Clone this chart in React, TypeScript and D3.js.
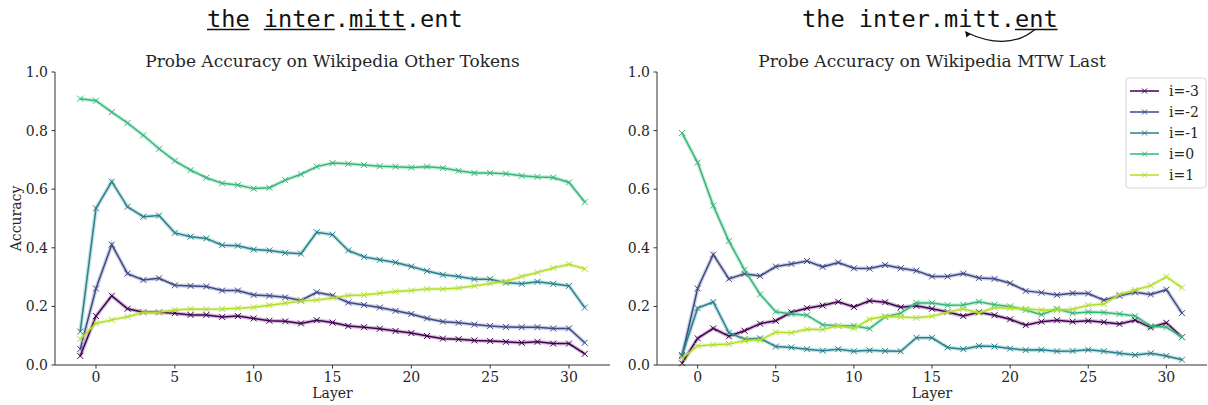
import React from 'react'
import * as d3 from 'd3'

// layers -1 .. 31
const layers = d3.range(-1, 32)

const seriesNames = ['i=-3', 'i=-2', 'i=-1', 'i=0', 'i=1']
const seriesColors = ['#440154', '#3E4A89', '#26828E', '#35B779', '#B4DE2C']

// Probe accuracy on Wikipedia other tokens
const otherM3 = [0.031, 0.167, 0.236, 0.192, 0.180, 0.180, 0.177, 0.171, 0.171, 0.164, 0.167, 0.159, 0.151, 0.149, 0.142, 0.153, 0.145, 0.133, 0.129, 0.124, 0.116, 0.109, 0.099, 0.090, 0.088, 0.084, 0.082, 0.079, 0.076, 0.079, 0.073, 0.073, 0.038]
const otherM2 = [0.054, 0.261, 0.411, 0.312, 0.290, 0.296, 0.272, 0.270, 0.268, 0.254, 0.254, 0.239, 0.236, 0.231, 0.220, 0.248, 0.237, 0.213, 0.205, 0.196, 0.185, 0.174, 0.159, 0.148, 0.144, 0.138, 0.133, 0.130, 0.129, 0.129, 0.125, 0.125, 0.076]
const otherM1 = [0.114, 0.535, 0.626, 0.540, 0.506, 0.510, 0.451, 0.438, 0.432, 0.409, 0.407, 0.394, 0.391, 0.383, 0.380, 0.453, 0.445, 0.391, 0.369, 0.359, 0.350, 0.336, 0.321, 0.308, 0.302, 0.293, 0.293, 0.281, 0.277, 0.284, 0.277, 0.270, 0.196]
const other0 = [0.909, 0.902, 0.863, 0.826, 0.784, 0.738, 0.697, 0.665, 0.639, 0.620, 0.614, 0.602, 0.605, 0.631, 0.651, 0.677, 0.689, 0.687, 0.683, 0.678, 0.677, 0.674, 0.677, 0.672, 0.663, 0.655, 0.655, 0.653, 0.646, 0.642, 0.640, 0.623, 0.556]
const otherP1 = [0.088, 0.142, 0.154, 0.165, 0.179, 0.180, 0.188, 0.191, 0.190, 0.191, 0.194, 0.197, 0.204, 0.211, 0.218, 0.222, 0.229, 0.237, 0.239, 0.245, 0.251, 0.254, 0.259, 0.259, 0.263, 0.270, 0.278, 0.285, 0.302, 0.316, 0.331, 0.344, 0.328]

// Probe accuracy on Wikipedia MTW last
const mtwM3 = [0.006, 0.091, 0.125, 0.098, 0.117, 0.141, 0.151, 0.180, 0.194, 0.203, 0.216, 0.198, 0.219, 0.214, 0.197, 0.202, 0.192, 0.181, 0.167, 0.180, 0.170, 0.156, 0.136, 0.148, 0.153, 0.148, 0.151, 0.146, 0.140, 0.153, 0.128, 0.144, 0.095]
const mtwM2 = [0.030, 0.261, 0.377, 0.294, 0.311, 0.304, 0.336, 0.345, 0.355, 0.335, 0.350, 0.330, 0.329, 0.341, 0.330, 0.322, 0.302, 0.302, 0.312, 0.297, 0.294, 0.279, 0.253, 0.247, 0.239, 0.245, 0.244, 0.221, 0.236, 0.248, 0.241, 0.257, 0.177]
const mtwM1 = [0.034, 0.194, 0.215, 0.110, 0.088, 0.091, 0.063, 0.060, 0.054, 0.049, 0.054, 0.047, 0.050, 0.048, 0.047, 0.093, 0.093, 0.060, 0.054, 0.065, 0.063, 0.056, 0.051, 0.052, 0.047, 0.048, 0.052, 0.047, 0.040, 0.034, 0.040, 0.031, 0.018]
const mtw0 = [0.792, 0.691, 0.544, 0.423, 0.325, 0.241, 0.182, 0.174, 0.170, 0.137, 0.134, 0.134, 0.124, 0.164, 0.177, 0.212, 0.212, 0.204, 0.205, 0.216, 0.206, 0.200, 0.188, 0.172, 0.192, 0.177, 0.181, 0.179, 0.174, 0.167, 0.133, 0.129, 0.095]
const mtwP1 = [0.023, 0.065, 0.069, 0.072, 0.083, 0.085, 0.112, 0.110, 0.122, 0.121, 0.134, 0.125, 0.156, 0.166, 0.164, 0.161, 0.166, 0.180, 0.192, 0.178, 0.196, 0.194, 0.192, 0.188, 0.188, 0.190, 0.204, 0.208, 0.241, 0.256, 0.271, 0.301, 0.264]

const xTicks = [0, 5, 10, 15, 20, 25, 30]
const yTicks = [0, 0.2, 0.4, 0.6, 0.8, 1.0]

const headerText = 'the inter.mitt.ent'

const serif = '"DejaVu Serif", serif'
const mono = '"DejaVu Sans Mono", monospace'
const textColor = '#262626'

const W = 1208
const H = 405
const top = 72
const bottom = 365
const charW = 14.2

interface PanelProps {
    left: number
    right: number
    title: string
    data: number[][]
    yLabel?: boolean
    legend?: boolean
}

const Panel = ({ left, right, title, data, yLabel, legend }: PanelProps) => {
    const x = d3.scaleLinear().domain([-2.6, 32.6]).range([left, right])
    const y = d3.scaleLinear().domain([0, 1]).range([bottom, top])
    const line = d3.line<number>()
        .x((_, i) => x(layers[i]))
        .y(d => y(d))

    return (
        <g>
            <text x={(left + right) / 2} y={67} textAnchor="middle" fontFamily={serif} fontSize={17} fill={textColor}>{title}</text>
            {data.map((vals, s) => (
                <g key={`s-${s}`}>
                    <path d={line(vals) || ''} fill="none" stroke={seriesColors[s]} strokeOpacity={0.25} strokeWidth={4} />
                    <path d={line(vals) || ''} fill="none" stroke={seriesColors[s]} strokeWidth={1.5} />
                    {vals.map((v, i) => {
                        let cx = x(layers[i])
                        let cy = y(v)
                        return <path key={i} d={`M${cx - 3},${cy - 3}L${cx + 3},${cy + 3}M${cx - 3},${cy + 3}L${cx + 3},${cy - 3}`} stroke={seriesColors[s]} strokeWidth={1} />
                    })}
                </g>
            ))}
            {/* axes */}
            <line x1={left} x2={left} y1={top} y2={bottom} stroke="#333" strokeWidth={1} />
            <line x1={left} x2={right} y1={bottom} y2={bottom} stroke="#333" strokeWidth={1} />
            {yTicks.map(t => (
                <g key={`y${t}`}>
                    <line x1={left - 3.5} x2={left} y1={y(t)} y2={y(t)} stroke="#333" />
                    <text x={left - 7} y={y(t)} dy="0.35em" textAnchor="end" fontFamily={serif} fontSize={14} fill={textColor}>{t.toFixed(1)}</text>
                </g>
            ))}
            {xTicks.map(t => (
                <g key={`x${t}`}>
                    <line x1={x(t)} x2={x(t)} y1={bottom} y2={bottom + 3.5} stroke="#333" />
                    <text x={x(t)} y={382} textAnchor="middle" fontFamily={serif} fontSize={14} fill={textColor}>{t}</text>
                </g>
            ))}
            <text x={(left + right) / 2} y={398} textAnchor="middle" fontFamily={serif} fontSize={14} fill={textColor}>Layer</text>
            {yLabel && (
                <text transform={`translate(21,${(top + bottom) / 2}) rotate(-90)`} textAnchor="middle" fontFamily={serif} fontSize={14} fill={textColor}>Accuracy</text>
            )}
            {legend && (
                <g>
                    <rect x={1126} y={78} width={80} height={110} rx={3} fill="white" stroke="#d6d6d6" strokeWidth={1} />
                    {seriesNames.map((n, s) => {
                        let ly = 91 + s * 21
                        return (
                            <g key={n}>
                                <line x1={1130} x2={1159} y1={ly} y2={ly} stroke={seriesColors[s]} strokeWidth={1.5} />
                                <path d={`M${1144.5 - 2.5},${ly - 2.5}L${1144.5 + 2.5},${ly + 2.5}M${1144.5 - 2.5},${ly + 2.5}L${1144.5 + 2.5},${ly - 2.5}`} stroke={seriesColors[s]} strokeWidth={1} />
                                <text x={1169} y={ly} dy="0.35em" fontFamily={serif} fontSize={14} fill={textColor}>{n}</text>
                            </g>
                        )
                    })}
                </g>
            )}
        </g>
    )
}

const Header = ({ startX, underlines, arrow }: { startX: number, underlines: number[][], arrow?: number[] }) => {
    const cx = (i: number) => startX + i * charW
    return (
        <g>
            <text x={startX} y={27} fontFamily={mono} fontSize={23.6} fill="#111" style={{ whiteSpace: 'pre' }}>{headerText}</text>
            {underlines.map(([a, b], k) => (
                <line key={k} x1={cx(a)} x2={cx(b)} y1={29.5} y2={29.5} stroke="#111" strokeWidth={1.3} />
            ))}
            {arrow && (() => {
                const x0 = cx(arrow[0]) + charW * 0.4
                const x1 = cx(arrow[1]) + charW * 0.5
                return (
                    <g>
                        <path d={`M${x0},${29.5} Q${(x0 + x1) / 2 + 8},${52} ${x1},${32}`} fill="none" stroke="#111" strokeWidth={1.2} />
                        <path d={`M${x1},${31} l1,6.5 l4.5,-3.5 z`} fill="#111" />
                    </g>
                )
            })()}
        </g>
    )
}

export default function App() {
    const otherData = [otherM3, otherM2, otherM1, other0, otherP1]
    const mtwData = [mtwM3, mtwM2, mtwM1, mtw0, mtwP1]
    return (
        <svg width={W} height={H} style={{ position: 'absolute', left: 0, top: 0, background: 'white' }}>
            <Header startX={207} underlines={[[0, 3], [4, 9], [10, 14]]} />
            <Header startX={802} underlines={[[15, 18]]} arrow={[16, 11]} />
            <Panel left={55} right={610} title="Probe Accuracy on Wikipedia Other Tokens" data={otherData} yLabel />
            <Panel left={657} right={1207} title="Probe Accuracy on Wikipedia MTW Last" data={mtwData} legend />
        </svg>
    )
}
